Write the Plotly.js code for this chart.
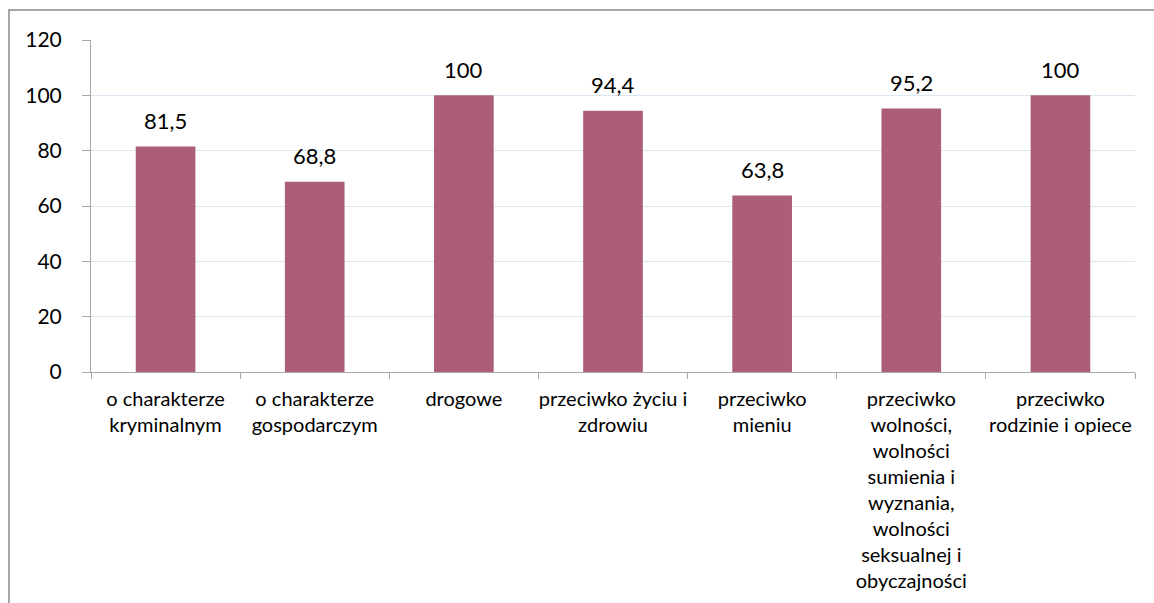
<!DOCTYPE html>
<html><head><meta charset="utf-8">
<script src="https://cdn.plot.ly/plotly-3.0.1.min.js"></script>
<style>html,body{margin:0;padding:0;background:#fff}#c{width:1154px;height:603px}</style>
</head><body><div id="c"></div>
<script>
const categories = [
  "o charakterze<br>kryminalnym",
  "o charakterze<br>gospodarczym",
  "drogowe",
  "przeciwko życiu i<br>zdrowiu",
  "przeciwko<br>mieniu",
  "przeciwko<br>wolności,<br>wolności<br>sumienia i<br>wyznania,<br>wolności<br>seksualnej i<br>obyczajności",
  "przeciwko<br>rodzinie i opiece"
];
const values = [81.5, 68.8, 100, 94.4, 63.8, 95.2, 100];
const yTicks = [0, 20, 40, 60, 80, 100, 120];

const L = 91, R = 19, T = 40, B = 231, W = 1154, H = 603;
const pw = W - L - R, ph = H - T - B;
const px2x = p => (p - L) / pw;
const py2y = p => (H - B - p) / ph;

const trace = {
  type: 'bar', x: categories, y: values,
  marker: {color: '#ad5e77'},
  hoverinfo: 'none'
};
const annotations = categories.map((c, i) => ({
  x: c, y: values[i], xref: 'x', yref: 'y',
  text: String(values[i]).replace('.', ','),
  showarrow: false, yanchor: 'middle', yshift: 26,
  font: {family: 'Lato, sans-serif', size: 22, color: '#000'}
}));
const layout = {
  width: W, height: H,
  margin: {l: L, r: R, t: T, b: B, pad: 0},
  paper_bgcolor: '#fff', plot_bgcolor: '#fff',
  showlegend: false, bargap: 0.6,
  font: {family: 'Lato, sans-serif', color: '#000'},
  xaxis: {
    type: 'category', tickson: 'boundaries', ticks: 'outside', ticklen: 6,
    tickcolor: '#a6a6a6', showline: true, linecolor: '#a6a6a6', linewidth: 1,
    showgrid: false, tickfont: {size: 20, color: '#000'}, tickangle: 0, automargin: false,
    ticklabelstandoff: 9
  },
  yaxis: {
    range: [0, 120], tickvals: yTicks, ticks: 'outside', ticklen: 8,
    tickcolor: '#a6a6a6', showline: true, linecolor: '#a6a6a6', linewidth: 1,
    gridcolor: '#dce6f2', gridwidth: 1, zeroline: false,
    tickfont: {size: 21, color: '#000'}, automargin: false,
    ticklabelstandoff: 16
  },
  annotations: annotations,
  shapes: [
    {type: 'line', xref: 'paper', yref: 'paper', x0: px2x(8), x1: px2x(1160), y0: py2y(10), y1: py2y(10), line: {color: '#a6a6a6', width: 2}},
    {type: 'line', xref: 'paper', yref: 'paper', x0: px2x(9), x1: px2x(9), y0: py2y(10), y1: py2y(610), line: {color: '#a6a6a6', width: 2}}
  ]
};
Plotly.newPlot('c', [trace], layout, {staticPlot: true});
</script></body></html>
